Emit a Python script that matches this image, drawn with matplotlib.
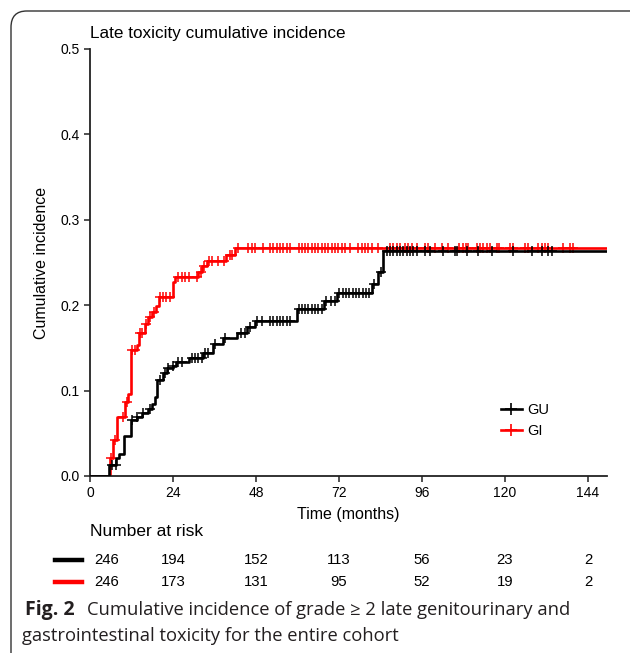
import numpy as np
import matplotlib.pyplot as plt
from matplotlib.patches import FancyBboxPatch

# step curves (months, cumulative incidence)
gi_t = [0, 5.8, 6.7, 7.9, 10.1, 11.1, 11.8, 13.5, 14.3, 15.9, 16.9, 17.8, 19.1, 20.0,
        23.9, 24.6, 31.3, 32.3, 33.7, 39.3, 41.9, 149.5]
gi_v = [0, 0.021, 0.042, 0.069, 0.087, 0.096, 0.148, 0.153, 0.168, 0.178, 0.186, 0.192,
        0.199, 0.210, 0.227, 0.233, 0.239, 0.246, 0.252, 0.259, 0.267, 0.267]

gu_t = [0, 5.6, 7.5, 8.5, 9.9, 11.8, 13.5, 14.9, 16.9, 17.8, 18.8, 19.5, 21.2, 22.4,
        23.9, 25.0, 28.7, 32.8, 35.7, 38.5, 42.4, 45.3, 47.7, 59.8, 67.7, 71.5, 81.5,
        83.4, 84.8, 149.5]
gu_v = [0, 0.013, 0.021, 0.026, 0.047, 0.065, 0.069, 0.074, 0.079, 0.084, 0.093, 0.112,
        0.121, 0.126, 0.129, 0.133, 0.138, 0.144, 0.155, 0.162, 0.168, 0.175, 0.182,
        0.196, 0.205, 0.214, 0.225, 0.239, 0.263, 0.263]

# censoring times
gi_cens = [6.2, 7.2, 9.6, 10.6, 12.1, 13.0, 14.5, 15.0, 16.3, 17.4, 18.5, 20.2, 21.0,
           22.0, 23.1, 25.3, 26.5, 27.6, 28.7, 30.9, 32.0, 33.0, 34.3, 35.4, 36.9, 38.6,
           40.4, 41.2, 42.8, 45.8, 46.8, 47.7, 50.1, 52.1, 53.0, 54.0, 54.9, 55.9, 56.9,
           57.8, 60.3, 61.2, 62.2, 63.1, 64.1, 65.1, 66.0, 67.0, 68.0, 68.9, 69.9, 70.9,
           71.8, 72.8, 73.7, 75.2, 77.6, 78.6, 79.5, 80.5, 81.5, 83.4, 86.8, 87.7, 88.7,
           89.7, 91.1, 92.0, 93.0, 94.5, 96.9, 97.8, 99.8, 101.7, 103.6, 106.8, 107.8,
           108.7, 109.4, 111.8, 112.7, 113.5, 114.7, 115.6, 117.6, 118.3, 121.4, 122.4,
           125.7, 126.7, 129.6, 130.6, 131.5, 132.5, 136.8, 138.8, 139.6]
gu_cens = [6.3, 7.4, 12.1, 13.7, 15.2, 17.4, 20.2, 21.6, 22.6, 24.1, 25.5, 26.5, 29.4,
           30.4, 31.3, 32.3, 33.3, 34.2, 36.2, 39.0, 43.8, 44.7, 46.2, 48.2, 49.6, 52.1,
           53.0, 54.0, 54.9, 55.9, 56.9, 57.8, 60.3, 61.2, 62.2, 63.1, 64.1, 65.1, 66.0,
           67.0, 68.3, 69.6, 70.9, 72.1, 73.1, 74.0, 75.0, 76.0, 76.9, 77.9, 78.9, 79.8,
           80.6, 82.1, 84.0, 85.8, 86.8, 87.7, 88.7, 89.7, 90.6, 91.6, 92.6, 93.5, 94.5,
           96.9, 98.3, 102.2, 105.6, 106.0, 108.9, 112.3, 116.1, 122.4, 127.7, 130.6,
           132.5, 133.5]

risk_times = [0, 24, 48, 72, 96, 120, 144]
risk_gu = [246, 194, 152, 113, 56, 23, 2]
risk_gi = [246, 173, 131, 95, 52, 19, 2]


def at(tt, vv, c):
    idx = np.searchsorted(tt, c, side="right") - 1
    return np.array(vv)[idx]


plt.rcParams["font.family"] = ["Liberation Sans", "DejaVu Sans"]

fig = plt.figure(figsize=(6.3, 6.53), dpi=100)
ax = fig.add_axes([0.1429, 0.2711, 0.8206, 0.6539])

RED = "#ff0000"
ax.step(gu_t, gu_v, where="post", color="black", lw=1.9, zorder=3)
ax.plot(gu_cens, at(gu_t, gu_v, gu_cens), "+", color="black", ms=7, mew=1.1, zorder=3)
ax.step(gi_t, gi_v, where="post", color=RED, lw=1.9, zorder=2)
ax.plot(gi_cens, at(gi_t, gi_v, gi_cens), "+", color=RED, ms=7, mew=1.1, zorder=2)

ax.set_xlim(0, 149.5)
ax.set_ylim(0, 0.5)
ax.set_xticks(risk_times)
ax.set_yticks([0, 0.1, 0.2, 0.3, 0.4, 0.5])
ax.set_yticklabels(["0.0", "0.1", "0.2", "0.3", "0.4", "0.5"])
for s in ["top", "right"]:
    ax.spines[s].set_visible(False)
for s in ["left", "bottom"]:
    ax.spines[s].set_linewidth(1.3)
    ax.spines[s].set_color("#222222")
ax.tick_params(direction="out", length=4, width=1.1, labelsize=10, color="#222222")
ax.set_xlabel("Time (months)", fontsize=11.5, labelpad=5)
ax.set_ylabel("Cumulative incidence", fontsize=11.5, labelpad=8)
ax.set_title("Late toxicity cumulative incidence", fontsize=12.3, loc="left", x=0.0, y=1.0,
             pad=8)

h1, = ax.plot([], [], "-+", color="black", lw=1.9, ms=8, mew=1.2)
h2, = ax.plot([], [], "-+", color=RED, lw=1.9, ms=8, mew=1.2)
ax.legend([h1, h2], ["GU", "GI"], loc="center left", bbox_to_anchor=(0.77, 0.13),
          frameon=False, handlelength=1.4, handletextpad=0.4, fontsize=10.5,
          labelspacing=0.5)

# number at risk table
fig.text(90 / 630, 1 - 531 / 653, "Number at risk", fontsize=12.5, va="center")
for row, col, yp in [(risk_gu, "black", 560), (risk_gi, RED, 582)]:
    yf = 1 - yp / 653
    fig.add_artist(plt.Line2D([55 / 630, 82 / 630], [yf, yf], color=col, lw=3.2))
    for i, (t, n) in enumerate(zip(risk_times, row)):
        xs = t + 4.7 if i == 0 else t
        xf = fig.transFigure.inverted().transform(ax.transData.transform((xs, 0)))[0]
        fig.text(xf, yf, str(n), fontsize=10.7, ha="center", va="center")

# caption
cap_y1 = 1 - 615 / 653
cap_y2 = 1 - 641 / 653
fig.text(25 / 630, cap_y1, "Fig. 2", fontsize=14, fontweight="bold",
         family="Open Sans", color="#231f20", va="baseline")
fig.text(87 / 630, cap_y1, "Cumulative incidence of grade \u2265 2 late genitourinary and",
         fontsize=13.2, family=["Open Sans", "DejaVu Sans"], color="#231f20", va="baseline")
fig.text(22 / 630, cap_y2, "gastrointestinal toxicity for the entire cohort",
         fontsize=13.2, family="Open Sans", color="#231f20", va="baseline")

# rounded border
box = FancyBboxPatch((11 / 630, -0.2), 1.2, 1 - 11 / 653 + 0.2,
                     boxstyle="round,pad=0,rounding_size=0.025", transform=fig.transFigure,
                     fill=False, ec="#333333", lw=1.0, clip_on=False)
fig.add_artist(box)

fig.savefig("out.png", dpi=100)
